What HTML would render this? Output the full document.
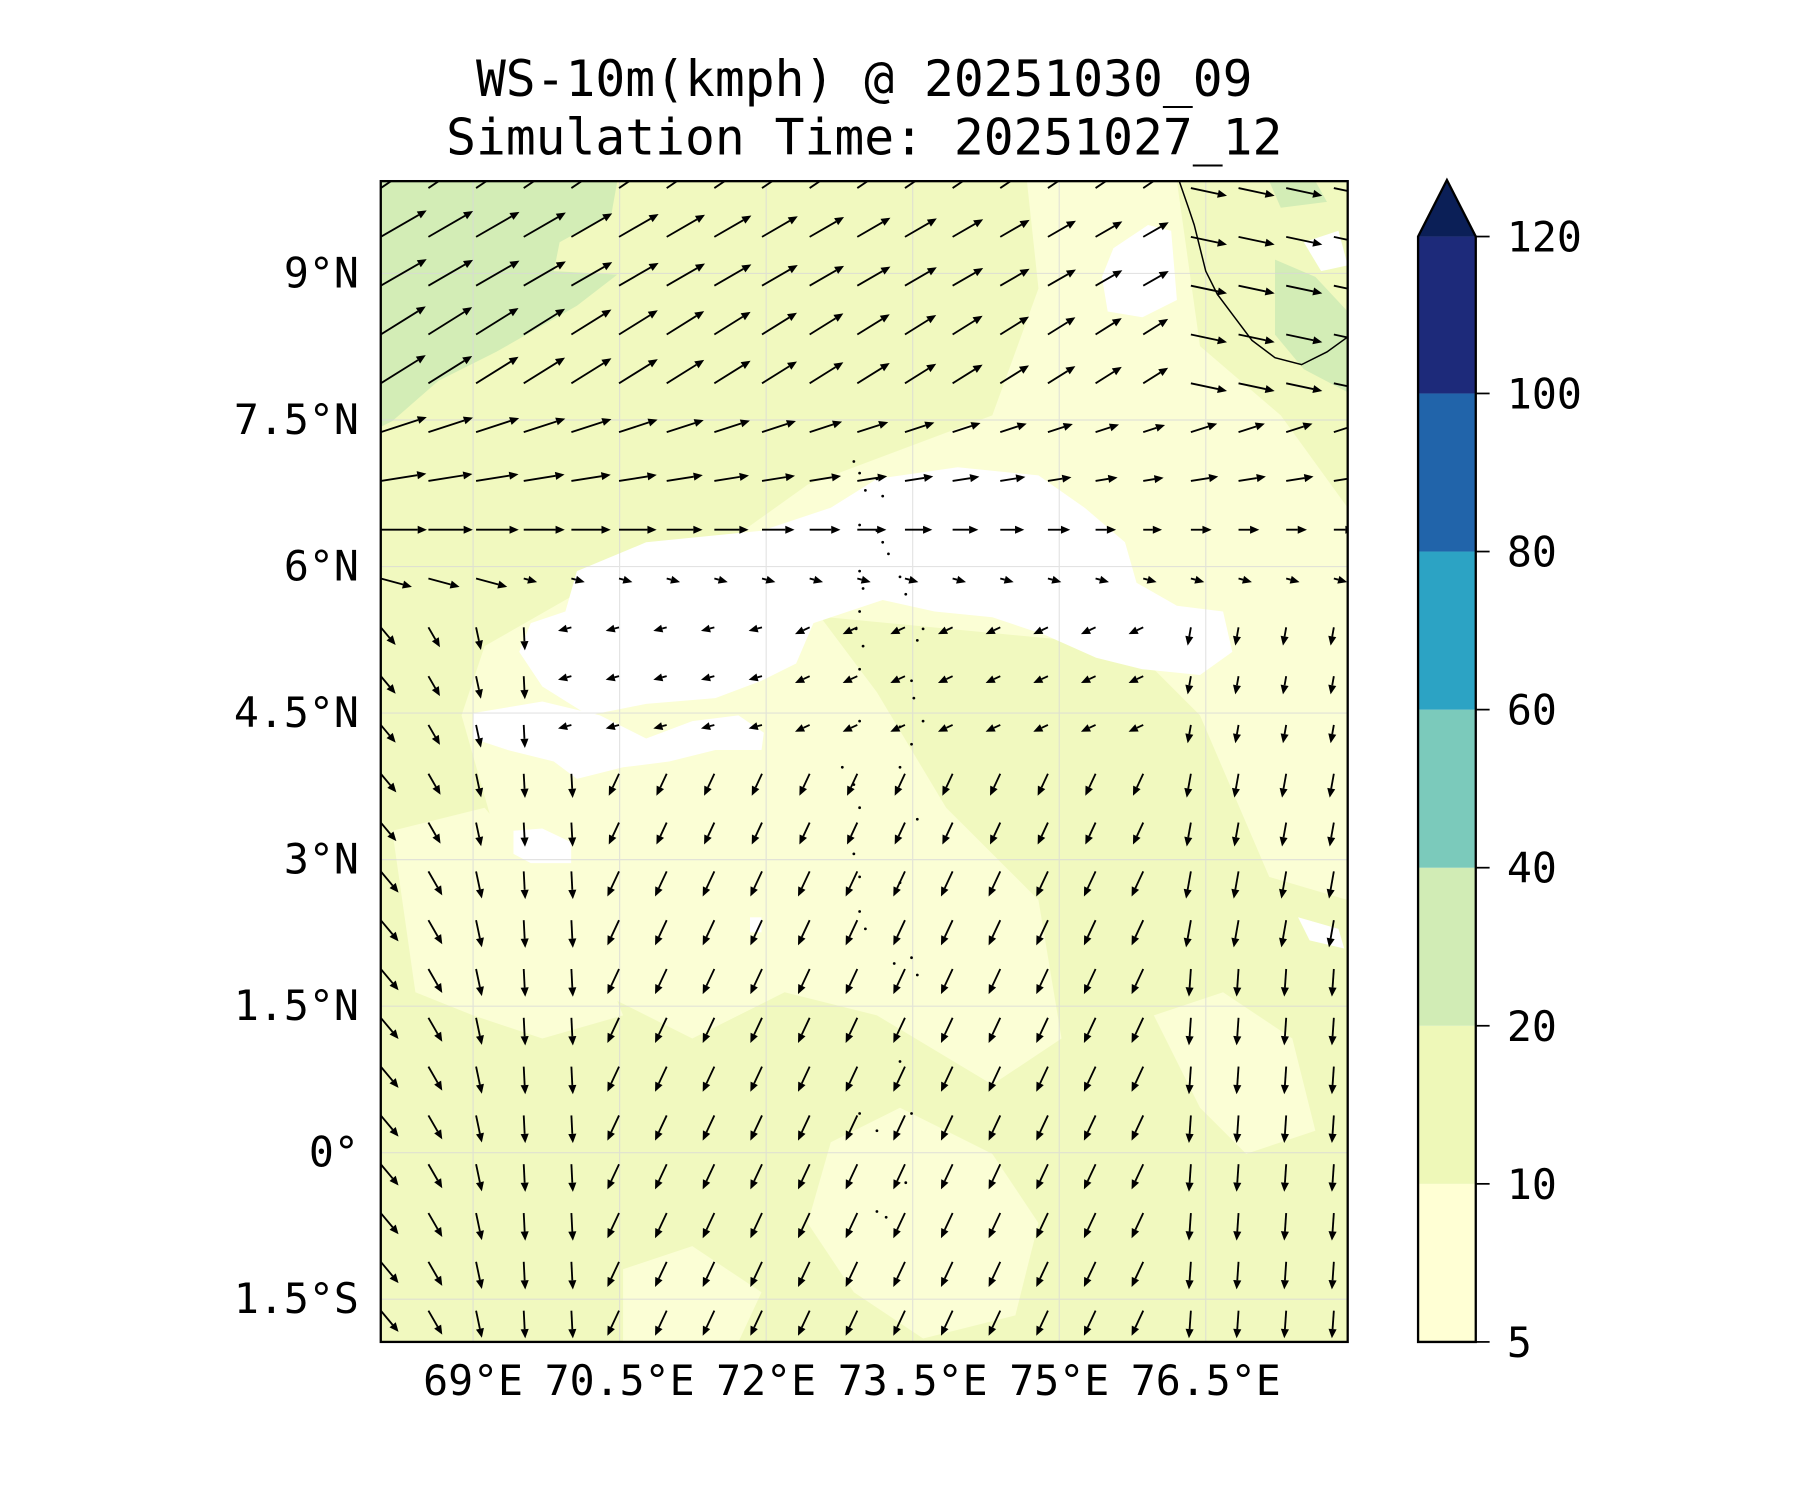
<!DOCTYPE html>
<html><head><meta charset="utf-8"><style>
html,body{margin:0;padding:0;background:#fff;}
svg{display:block;}
text{font-family:"DejaVu Sans Mono","Liberation Mono",monospace;fill:#000;}
</style></head><body>
<svg id="s" width="1800" height="1500" viewBox="0 0 1560 1300" xmlns="http://www.w3.org/2000/svg">
<text x="749" y="83" font-size="43" text-anchor="middle">WS-10m(kmph) @ 20251030_09</text>
<text x="749" y="134" font-size="43" text-anchor="middle">Simulation Time: 20251027_12</text>
<defs><clipPath id="c"><rect x="330" y="157" width="838" height="1006"/></clipPath></defs>
<g clip-path="url(#c)">
<rect x="330" y="157" width="838" height="1006" fill="#f1f9bf"/>
<path d="M560,520 L700,420 L860,360 L900,250 L890,157 L1020,157 L1040,300 L1110,360 L1168,440 L1168,780 L1100,760 L1040,620 L980,560 Z" fill="#fbfed5"/>
<path d="M420,560 L560,480 L700,520 L760,600 L820,700 L900,780 L920,900 L860,940 L760,880 L680,860 L600,900 L520,860 L440,760 L400,620 Z" fill="#fbfed5"/>
<path d="M340,720 L420,700 L470,760 L520,830 L540,880 L470,900 L410,880 L360,860 Z" fill="#fbfed5"/>
<path d="M720,990 L780,960 L860,1000 L900,1060 L880,1140 L800,1160 L740,1120 L700,1060 Z" fill="#fbfed5"/>
<path d="M540,1100 L600,1080 L660,1120 L640,1163 L540,1163 Z" fill="#fbfed5"/>
<path d="M1000,880 L1060,860 L1120,900 L1140,980 L1080,1000 L1040,960 Z" fill="#fbfed5"/>
<path d="M330,157 L535,157 L530,185 L485,210 L480,235 L535,238 L500,265 L465,285 L430,305 L380,330 L340,365 L330,370 Z" fill="#d3edb6"/>
<path d="M1100,157 L1140,157 L1150,175 L1110,180 Z" fill="#d3edb6"/>
<path d="M1105,225 L1140,240 L1168,270 L1168,340 L1130,320 L1105,290 Z" fill="#d3edb6"/>
<path d="M500,495 L560,470 L660,460 L720,440 L760,415 L830,405 L900,412 L940,440 L975,470 L985,505 L1020,525 L1060,530 L1068,565 L1040,585 L990,580 L950,570 L905,550 L860,535 L810,530 L765,520 L705,540 L690,575 L660,590 L620,605 L560,610 L510,620 L470,595 L450,565 L460,540 L490,530 Z" fill="#fff"/>
<path d="M410,618 L470,608 L520,620 L560,640 L600,625 L640,620 L662,635 L660,650 L620,650 L580,660 L540,665 L500,675 L480,660 L440,650 L410,640 Z" fill="#fff"/>
<path d="M965,215 L995,195 L1015,200 L1020,260 L990,275 L960,270 L955,240 Z" fill="#fff"/>
<path d="M445,720 L470,718 L495,730 L495,748 L460,748 L445,740 Z" fill="#fff"/>
<path d="M1125,795 L1160,805 L1165,822 L1135,815 Z" fill="#fff"/>
<path d="M650,795 L660,795 L660,808 L650,808 Z" fill="#fff"/>
<path d="M1130,210 L1160,200 L1168,230 L1145,235 Z" fill="#fff"/>
<g stroke="#d8d8d8" stroke-width="1" opacity="0.7">
<line x1="410" y1="157" x2="410" y2="1163"/><line x1="537" y1="157" x2="537" y2="1163"/><line x1="664" y1="157" x2="664" y2="1163"/><line x1="791" y1="157" x2="791" y2="1163"/><line x1="918" y1="157" x2="918" y2="1163"/><line x1="1045" y1="157" x2="1045" y2="1163"/>
<line x1="330" y1="237" x2="1168" y2="237"/><line x1="330" y1="364" x2="1168" y2="364"/><line x1="330" y1="491" x2="1168" y2="491"/><line x1="330" y1="618" x2="1168" y2="618"/><line x1="330" y1="745" x2="1168" y2="745"/><line x1="330" y1="872" x2="1168" y2="872"/><line x1="330" y1="999" x2="1168" y2="999"/><line x1="330" y1="1126" x2="1168" y2="1126"/>
</g>
<path d="M1022,157 L1030,180 L1035,195 L1040,215 L1045,235 L1055,255 L1070,275 L1085,295 L1105,310 L1128,316 L1150,305 L1168,292" fill="none" stroke="#000" stroke-width="1.3"/>
<g id="dots" fill="#000"></g>
<g id="arr"></g>
</g>
<rect x="330" y="157" width="838" height="1006" fill="none" stroke="#000" stroke-width="2"/>
<g font-size="36" text-anchor="end">
<text x="311" y="249">9°N</text><text x="311" y="376">7.5°N</text><text x="311" y="503">6°N</text><text x="311" y="630">4.5°N</text><text x="311" y="757">3°N</text><text x="311" y="884">1.5°N</text><text x="311" y="1011">0°</text><text x="311" y="1138">1.5°S</text>
</g>
<g font-size="36" text-anchor="middle">
<text x="410" y="1209">69°E</text><text x="537" y="1209">70.5°E</text><text x="664" y="1209">72°E</text><text x="791" y="1209">73.5°E</text><text x="918" y="1209">75°E</text><text x="1045" y="1209">76.5°E</text>
</g>
<rect x="1229" y="1026" width="50" height="137" fill="#ffffd4"/>
<rect x="1229" y="889" width="50" height="137" fill="#eef8b8"/>
<rect x="1229" y="752" width="50" height="137" fill="#d1ecb5"/>
<rect x="1229" y="615" width="50" height="137" fill="#7bcabb"/>
<rect x="1229" y="478" width="50" height="137" fill="#2ca3c4"/>
<rect x="1229" y="341" width="50" height="137" fill="#2164aa"/>
<rect x="1229" y="205" width="50" height="136" fill="#1d2a7a"/>
<path d="M1229,205 L1254,156 L1279,205 Z" fill="#0b1f57"/>
<path d="M1229,1163 L1229,205 L1254,156 L1279,205 L1279,1163 Z" fill="none" stroke="#000" stroke-width="2"/>
<g stroke="#000" stroke-width="1.5">
<line x1="1279" y1="1163" x2="1291" y2="1163"/><line x1="1279" y1="1026" x2="1291" y2="1026"/><line x1="1279" y1="889" x2="1291" y2="889"/><line x1="1279" y1="752" x2="1291" y2="752"/><line x1="1279" y1="615" x2="1291" y2="615"/><line x1="1279" y1="478" x2="1291" y2="478"/><line x1="1279" y1="341" x2="1291" y2="341"/><line x1="1279" y1="205" x2="1291" y2="205"/>
</g>
<g font-size="36">
<text x="1306" y="1176">5</text><text x="1306" y="1039">10</text><text x="1306" y="902">20</text><text x="1306" y="765">40</text><text x="1306" y="628">60</text><text x="1306" y="491">80</text><text x="1306" y="354">100</text><text x="1306" y="218">120</text>
</g>
</svg>
<script>
(function(){
var g=document.getElementById("arr"),h="";
for(var j=0;j<24;j++){for(var i=0;i<21;i++){
 var x=330+41.3*i,y=163+42.3*j,a,L,t=(x-330)/838;
 if(j<=4){a=(j==0?34:(j<=2?30:32)); if(x>1000){a=-12;L=32;} else L=46-26*t;}
 else if(j==5){a=18;L=x>1000?24:42-28*t;}
 else if(j==6){a=9;L=x>1000?24:40-28*t;}
 else if(j==7){a=0;L=x>1000?18:40-30*t;}
 else if(j==8){a=-15;L=x<450?28:12;}
 else {
  var tilt;
  if(x<360)tilt=40;else if(x<400)tilt=30;else if(x<440)tilt=12;else if(x<520)tilt=3;else if(x<1000)tilt=-25;else tilt=-10;
  if(j>=16&&x>1000)tilt=-4;
  a=-90+tilt;
  if(j<=11){
   if(x>480&&x<700){a=195;L=12;}
   else if(x>=700&&x<1000){a=205;L=14;}
   else if(x>=1000){a=-100;L=16;}
   else L=20;
  }
  else if(j<=13)L=21; else L=24;
 }
 var r=a*Math.PI/180,dx=Math.cos(r)*L,dy=-Math.sin(r)*L;
 var x2=x+dx,y2=y+dy,ux=dx/L,uy=dy/L,hl=8,hw=3.5;
 var bx=x2-ux*hl,by=y2-uy*hl;
 h+='<line x1="'+x.toFixed(1)+'" y1="'+y.toFixed(1)+'" x2="'+bx.toFixed(1)+'" y2="'+by.toFixed(1)+'" stroke="#000" stroke-width="1.6"/>';
 h+='<polygon points="'+x2.toFixed(1)+','+y2.toFixed(1)+' '+(bx-uy*hw).toFixed(1)+','+(by+ux*hw).toFixed(1)+' '+(bx+uy*hw).toFixed(1)+','+(by-ux*hw).toFixed(1)+'" fill="#000"/>';
}}
g.innerHTML=h;
var d="",pts=[[740,400],[745,410],[750,425],[760,415],[765,430],[745,455],[760,460],[765,470],[770,480],[745,495],[748,510],[780,500],[785,515],[745,530],[742,545],[800,545],[795,555],[748,560],[745,580],[790,590],[792,605],[745,625],[780,630],[800,625],[790,645],[780,665],[730,665],[740,680],[745,700],[795,710],[740,740],[745,760],[780,765],[745,790],[750,805],[775,835],[790,830],[795,845],[780,920],[745,965],[760,980],[790,965],[785,1025],[760,1050],[768,1055]];
for(var k=0;k<pts.length;k++){d+='<circle cx="'+pts[k][0]+'" cy="'+pts[k][1]+'" r="1.2"/>';}
document.getElementById("dots").innerHTML=d;
})();
</script>
</body></html>
